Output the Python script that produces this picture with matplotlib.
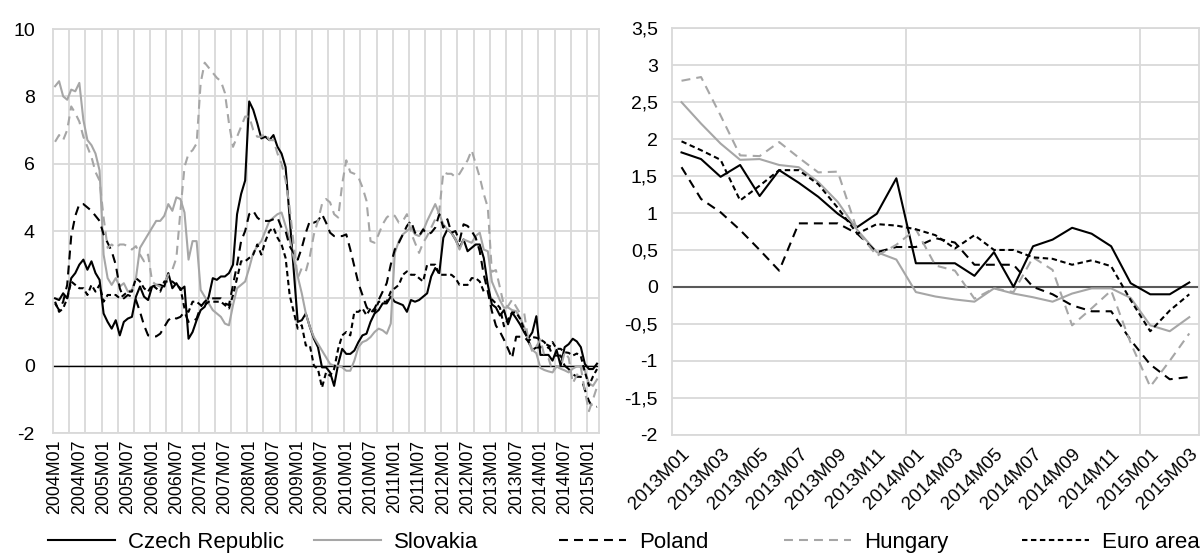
import matplotlib

matplotlib.use("Agg")
import matplotlib.pyplot as plt
import numpy as np

# annual inflation, 2004M01-2012M12 (left panel only)
cz_early = [
    2.0, 1.95, 2.15, 2.0, 2.6, 2.75, 3.0, 3.15, 2.85, 3.1, 2.75, 2.55,
    1.55, 1.3, 1.1, 1.35, 0.9, 1.3, 1.4, 1.45, 2.05, 2.35, 2.05, 1.95,
    2.35, 2.4, 2.4, 2.35, 2.75, 2.3, 2.45, 2.25, 2.35, 0.8, 1.0, 1.35,
    1.65, 1.75, 2.05, 2.6, 2.55, 2.65, 2.65, 2.75, 3.0, 4.5, 5.1, 5.5,
    7.85, 7.6, 7.2, 6.75, 6.8, 6.7, 6.85, 6.5, 6.3, 5.9, 4.4, 2.85,
    1.3, 1.35, 1.55, 1.15, 0.8, 0.55, -0.05, -0.05, -0.2, -0.6, 0.05, 0.5,
    0.35, 0.35, 0.45, 0.7, 0.9, 0.95, 1.3, 1.55, 1.65, 1.85, 1.85, 2.05,
    1.9, 1.85, 1.8, 1.6, 1.95, 1.9, 1.95, 2.05, 2.15, 2.65, 2.9, 2.75,
    3.8, 4.05, 3.95, 3.75, 3.5, 3.75, 3.4, 3.5, 3.6, 3.6, 3.2, 2.4,
]
sk_early = [
    8.3, 8.45, 8.0, 7.9, 8.2, 8.15, 8.4, 7.3, 6.7, 6.55, 6.3, 5.8,
    3.3, 2.6, 2.4, 2.6, 2.35, 2.45, 2.2, 2.25, 2.6, 3.5, 3.7, 3.9,
    4.1, 4.3, 4.3, 4.45, 4.8, 4.6, 5.0, 4.95, 4.55, 3.15, 3.7, 3.7,
    2.25, 2.05, 1.85, 1.65, 1.55, 1.45, 1.25, 1.2, 1.8, 2.3, 2.4, 2.5,
    2.9, 3.35, 3.55, 3.7, 4.0, 4.3, 4.4, 4.5, 4.55, 4.15, 3.75, 3.2,
    2.65, 2.15, 1.55, 1.15, 0.85, 0.65, 0.45, 0.25, 0.05, 0.0, 0.0, -0.05,
    -0.15, -0.15, 0.15, 0.55, 0.7, 0.75, 0.85, 1.0, 1.1, 1.05, 0.95, 1.25,
    3.35, 3.7, 3.9, 4.0, 4.1, 3.9, 3.85, 4.0, 4.3, 4.55, 4.8, 4.5,
    4.2, 4.05, 3.95, 3.75, 3.45, 3.75, 3.7, 3.65, 3.85, 3.95, 3.45, 3.4,
]
pl_early = [
    1.85, 1.65, 1.9, 2.4, 3.85, 4.45, 4.8, 4.8, 4.7, 4.6, 4.45, 4.3,
    3.9, 3.65, 3.4, 3.0, 2.3, 2.0, 2.1, 2.05, 1.95, 1.6, 1.2, 0.9,
    0.87, 0.87, 0.95, 1.15, 1.35, 1.45, 1.4, 1.45, 1.6, 1.3, 1.3, 1.4,
    1.75, 1.9, 2.0, 2.0, 2.0, 2.0, 1.85, 1.8, 2.4, 3.0, 3.7, 4.0,
    4.5, 4.6, 4.4, 4.3, 4.3, 4.3, 4.35, 4.4, 4.1, 4.0, 3.55, 3.35,
    3.15, 3.5, 3.95, 4.3, 4.25, 4.3, 4.5, 4.25, 3.95, 3.85, 3.85, 3.85,
    3.9, 3.45, 2.95, 2.45, 2.1, 1.75, 1.56, 1.7, 1.95, 2.2, 2.45, 3.0,
    3.45, 3.65, 3.9, 4.15, 4.3, 3.95, 3.85, 4.05, 3.9, 3.95, 4.1, 4.5,
    4.1, 4.35, 3.95, 4.0, 3.7, 4.2, 4.15, 4.0, 3.8, 3.4, 2.7, 2.2,
]
hu_early = [
    6.65, 6.85, 6.7, 7.0, 7.7, 7.5, 7.25, 6.8, 6.5, 6.2, 5.75, 5.5,
    4.4, 3.5, 3.6, 3.5, 3.6, 3.6, 3.55, 3.45, 3.55, 3.3, 3.1, 3.3,
    2.5, 2.4, 2.35, 2.45, 2.7, 2.85, 3.2, 4.6, 5.9, 6.3, 6.4, 6.6,
    8.4, 9.0, 8.85, 8.7, 8.55, 8.45, 8.1, 7.2, 6.5, 6.8, 7.1, 7.4,
    7.4, 7.0, 6.8, 6.8, 6.9, 6.7, 6.7, 6.3, 6.0, 5.5, 4.7, 3.6,
    2.6, 2.9, 2.8, 3.25, 3.9, 4.3, 4.8, 4.95, 4.85, 4.5, 4.4, 5.4,
    6.1, 5.75, 5.7, 5.6, 5.3, 4.9, 3.7, 3.65, 3.9, 4.2, 4.4, 4.5,
    4.45, 4.25, 4.3, 4.5, 3.95, 3.65, 3.35, 3.65, 3.85, 4.1, 4.35, 4.6,
    5.75, 5.7, 5.7, 5.6, 5.7, 5.9, 6.1, 6.4, 6.0, 5.6, 5.1, 4.7,
]
ea_early = [
    1.9, 1.6, 1.7, 2.0, 2.5, 2.4, 2.3, 2.3, 2.1, 2.4, 2.2, 2.4,
    1.9, 2.1, 2.1, 2.1, 2.0, 2.1, 2.2, 2.2, 2.6, 2.5, 2.3, 2.2,
    2.4, 2.3, 2.2, 2.5, 2.5, 2.5, 2.4, 2.3, 1.7, 1.6, 1.9, 1.9,
    1.8, 1.8, 1.9, 1.9, 1.9, 1.9, 1.8, 1.7, 2.1, 2.6, 3.1, 3.1,
    3.2, 3.3, 3.6, 3.3, 3.7, 4.0, 4.1, 3.8, 3.6, 3.2, 2.1, 1.6,
    1.1, 1.2, 0.6, 0.6, 0.0, -0.1, -0.65, -0.2, -0.3, -0.1, 0.5, 0.9,
    1.0, 0.9, 1.6, 1.6, 1.7, 1.5, 1.7, 1.6, 1.9, 1.9, 1.9, 2.2,
    2.3, 2.4, 2.7, 2.8, 2.7, 2.7, 2.6, 2.5, 3.0, 3.0, 3.0, 2.7,
    2.7, 2.7, 2.7, 2.6, 2.4, 2.4, 2.4, 2.6, 2.6, 2.5, 2.2, 2.2,
]

# 2013M01-2015M03 (right panel, also the tail of the left panel)
cz_recent = [1.82, 1.73, 1.49, 1.65, 1.23, 1.58, 1.41, 1.22, 0.99, 0.81, 0.99, 1.47,
             0.32, 0.32, 0.32, 0.15, 0.47, 0.0, 0.55, 0.64, 0.80, 0.72, 0.55, 0.05,
             -0.1, -0.1, 0.06]
sk_recent = [2.5, 2.21, 1.94, 1.72, 1.73, 1.65, 1.62, 1.42, 1.15, 0.77, 0.47, 0.37,
             -0.07, -0.13, -0.17, -0.2, -0.02, -0.09, -0.14, -0.2, -0.09, -0.02, -0.02, -0.15,
             -0.52, -0.6, -0.41]
pl_recent = [1.62, 1.19, 1.01, 0.77, 0.5, 0.22, 0.86, 0.86, 0.86, 0.72, 0.47, 0.54,
             0.54, 0.66, 0.6, 0.3, 0.3, 0.3, 0.0, -0.1, -0.25, -0.33, -0.33, -0.72,
             -1.05, -1.25, -1.22]
hu_recent = [2.79, 2.84, 2.32, 1.78, 1.77, 1.96, 1.75, 1.55, 1.56, 0.76, 0.42, 0.57,
             0.78, 0.29, 0.22, -0.16, -0.02, -0.07, 0.4, 0.23, -0.52, -0.29, -0.05, -0.76,
             -1.35, -1.0, -0.63]
ea_recent = [1.97, 1.85, 1.72, 1.17, 1.37, 1.58, 1.58, 1.39, 1.07, 0.72, 0.85, 0.83,
             0.78, 0.7, 0.52, 0.7, 0.5, 0.5, 0.4, 0.38, 0.3, 0.36, 0.28, -0.18,
             -0.6, -0.32, -0.1]

left_labels = [
    "2004M01", "2004M07", "2005M01", "2005M07", "2006M01", "2006M07",
    "2007M01", "2007M07", "2008M01", "2008M07", "2009M01", "2009M07",
    "2010M01", "2010M07", "2011M01", "2011M07", "2012M01", "2012M07",
    "2013M01", "2013M07", "2014M01", "2014M07", "2015M01",
]
right_labels = [
    "2013M01", "2013M03", "2013M05", "2013M07", "2013M09", "2013M11", "2014M01",
    "2014M03", "2014M05", "2014M07", "2014M09", "2014M11", "2015M01", "2015M03",
]
right_ytick_labels = ["-2", "-1,5", "-1", "-0,5", "0", "0,5", "1", "1,5",
                      "2", "2,5", "3", "3,5"]

names = ["Czech Republic", "Slovakia", "Poland", "Hungary", "Euro area"]

GRID = "#D9D9D9"
GREY = "#A6A6A6"
styles = [
    dict(color="black", linestyle="-"),
    dict(color=GREY, linestyle="-"),
    dict(color="black", linestyle=(0, (4.3, 2.9))),
    dict(color=GREY, linestyle=(0, (4.3, 2.9))),
    dict(color="black", linestyle=(0, (2.6, 1.7))),
]

plt.rcParams["font.family"] = ["Liberation Sans", "DejaVu Sans"]
plt.rcParams["axes.unicode_minus"] = False

left_series = [cz_early + cz_recent, sk_early + sk_recent, pl_early + pl_recent,
               hu_early + hu_recent, ea_early + ea_recent]
right_series = [cz_recent, sk_recent, pl_recent, hu_recent, ea_recent]

fig = plt.figure(figsize=(12, 5.57), dpi=100)
ax1 = fig.add_axes([0.0442, 0.2226, 0.455, 0.7253])
ax2 = fig.add_axes([0.5598, 0.2196, 0.4394, 0.7296])


def style_axes(ax):
    for spine in ax.spines.values():
        spine.set_color(GRID)
        spine.set_linewidth(1.3)
    ax.tick_params(which="both", length=0)
    ax.set_axisbelow(True)


# left panel
n_left = len(left_series[0])
xl = np.arange(n_left)
for vals, st in zip(left_series, styles):
    ax1.plot(xl, vals, linewidth=1.5, **st, zorder=3)
ax1.axhline(0, color="black", linewidth=1.0, zorder=2)
ax1.set_xlim(-0.5, n_left - 0.5)
ax1.set_ylim(-2, 10)
ax1.set_yticks(np.arange(-2, 11, 2))
ax1.set_xticks(np.arange(0, n_left, 6))
ax1.set_xticklabels(left_labels, rotation=90, va="top", ha="center", fontsize=12.8)
ax1.set_xticks(np.arange(3.5, n_left - 1, 4), minor=True)
ax1.grid(axis="y", color=GRID, linewidth=1.3)
ax1.grid(axis="x", which="minor", color=GRID, linewidth=1.3)
style_axes(ax1)
ax1.tick_params(axis="y", pad=13, labelsize=14)
ax1.tick_params(axis="x", pad=5)

# right panel
n_right = len(right_series[0])
xr = np.arange(n_right)
for vals, st in zip(right_series, styles):
    ax2.plot(xr, vals, linewidth=1.5, **st, zorder=3)
ax2.axhline(0, color="#595959", linewidth=1.5, zorder=2)
ax2.set_xlim(-0.5, n_right - 0.5)
ax2.set_ylim(-2, 3.5)
ax2.set_yticks(np.arange(-2, 3.51, 0.5))
ax2.set_yticklabels(right_ytick_labels)
ax2.set_xticks(np.arange(0, n_right, 2))
ax2.set_xticklabels(right_labels, rotation=45, ha="right", va="top",
                    rotation_mode="anchor", fontsize=13.5)
ax2.set_xticks([11.5, 23.5], minor=True)
ax2.grid(axis="y", color=GRID, linewidth=1.3)
ax2.grid(axis="x", which="minor", color=GRID, linewidth=1.3)
style_axes(ax2)
ax2.tick_params(axis="y", pad=10, labelsize=14)
ax2.tick_params(axis="x", pad=8)

# legend entries spread along the bottom edge
legend_x = [48, 314, 559, 784, 1022]
for name, st, x0 in zip(names, styles, legend_x):
    handle = plt.Line2D([], [], linewidth=1.5, **st)
    fig.legend([handle], [name], loc="center left",
               bbox_to_anchor=(x0 / 1200, 0.026), frameon=False,
               borderpad=0, borderaxespad=0, handlelength=3.0,
               handletextpad=0.6, fontsize=16)

fig.savefig("out.png", dpi=100)
